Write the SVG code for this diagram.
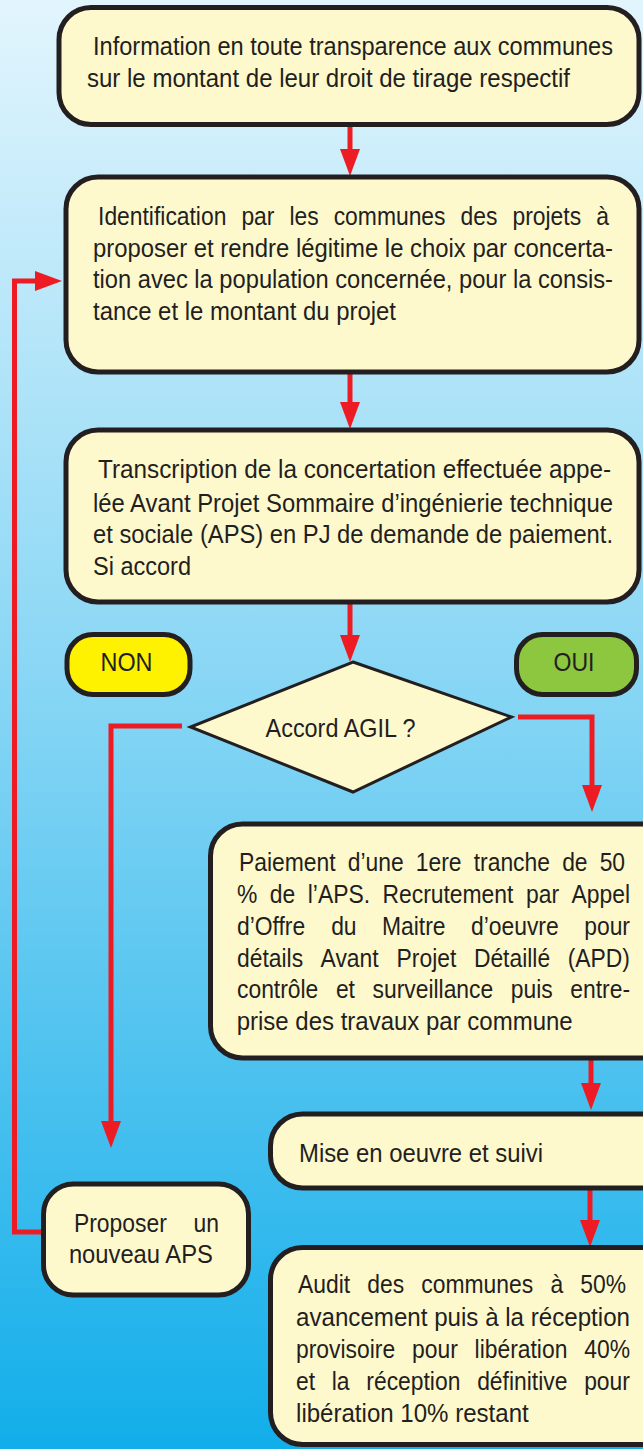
<svg xmlns="http://www.w3.org/2000/svg" width="643" height="1449" viewBox="0 0 643 1449">
<defs>
<linearGradient id="bg" x1="0" y1="0" x2="0" y2="1">
<stop offset="0" stop-color="#e2f5fd"/>
<stop offset="0.5" stop-color="#82d4f4"/>
<stop offset="1" stop-color="#12aeea"/>
</linearGradient>
<marker id="ah" viewBox="0 0 27 20" refX="0" refY="10" markerWidth="27" markerHeight="20" markerUnits="userSpaceOnUse" orient="auto">
<path d="M0,0 L27,10 L0,20 Z" fill="#ed1c24"/>
</marker>
<style>
.box{fill:#fef9cd;stroke:#231f20;stroke-width:5}
.t{font-family:"Liberation Sans",Arial,sans-serif;font-size:26px;fill:#231f20}
.c{fill:none;stroke:#ed1c24;stroke-width:5;stroke-linejoin:miter}
</style>
</defs>
<rect x="0" y="0" width="643" height="1449" fill="url(#bg)"/>

<g id="connectors">
<path class="c" d="M350,125 V149" marker-end="url(#ah)"/>
<path class="c" d="M350,373 V402" marker-end="url(#ah)"/>
<path class="c" d="M350,603 V635" marker-end="url(#ah)"/>
<path class="c" d="M518,717 H592 V785" marker-end="url(#ah)"/>
<path class="c" d="M182,726 H111 V1121" marker-end="url(#ah)"/>
<path class="c" d="M591,1060 V1083" marker-end="url(#ah)"/>
<path class="c" d="M590,1190 V1220" marker-end="url(#ah)"/>
<path class="c" d="M41,1232 H14.5 V281 H35" marker-end="url(#ah)"/>
</g>

<g id="n1">
<rect class="box" x="59" y="7.5" width="580" height="117" rx="32"/>
<text class="t" transform="scale(0.88 1)" x="105.7" y="55" textLength="590.9" lengthAdjust="spacingAndGlyphs">Information en toute transparence aux communes</text>
<text class="t" transform="scale(0.88 1)" x="98.9" y="87" textLength="548.9" lengthAdjust="spacingAndGlyphs">sur le montant de leur droit de tirage respectif</text>
</g>

<g id="n2">
<rect class="box" x="66" y="177" width="573" height="195" rx="32"/>
<text class="t" y="225" transform="scale(0.88 1)"><tspan x="111.4">Identification</tspan><tspan x="274.3">par</tspan><tspan x="329">les</tspan><tspan x="379.2">communes</tspan><tspan x="523.4">des</tspan><tspan x="582.4">projets</tspan><tspan x="677.5">à</tspan></text>
<text class="t" transform="scale(0.88 1)" x="105.7" y="256.7" textLength="590.9" lengthAdjust="spacingAndGlyphs">proposer et rendre légitime le choix par concerta-</text>
<text class="t" transform="scale(0.88 1)" x="105.7" y="288.3" textLength="590.9" lengthAdjust="spacingAndGlyphs">tion avec la population concernée, pour la consis-</text>
<text class="t" transform="scale(0.88 1)" x="105.7" y="320" textLength="344.3" lengthAdjust="spacingAndGlyphs">tance et le montant du projet</text>
</g>

<g id="n3">
<rect class="box" x="66" y="430" width="573" height="172" rx="32"/>
<text class="t" transform="scale(0.88 1)" x="111.4" y="478.3" textLength="583" lengthAdjust="spacingAndGlyphs">Transcription de la concertation effectuée appe-</text>
<text class="t" transform="scale(0.88 1)" x="105.7" y="511.7" textLength="590.9" lengthAdjust="spacingAndGlyphs">lée Avant Projet Sommaire d’ingénierie technique</text>
<text class="t" transform="scale(0.88 1)" x="105.7" y="543.3" textLength="590.9" lengthAdjust="spacingAndGlyphs">et sociale (APS) en PJ de demande de paiement.</text>
<text class="t" transform="scale(0.88 1)" x="105.7" y="575" textLength="111.4" lengthAdjust="spacingAndGlyphs">Si accord</text>
</g>

<g id="non">
<rect x="67" y="634.5" width="123" height="60" rx="26" fill="#fff200" stroke="#231f20" stroke-width="5"/>
<text class="t" transform="scale(0.88 1)" x="143.75" y="671" text-anchor="middle" textLength="59.1" lengthAdjust="spacingAndGlyphs">NON</text>
</g>

<g id="oui">
<rect x="516.5" y="634.5" width="120" height="60" rx="26" fill="#8dc63f" stroke="#231f20" stroke-width="5"/>
<text class="t" transform="scale(0.88 1)" x="652.3" y="671" text-anchor="middle" textLength="46.6" lengthAdjust="spacingAndGlyphs">OUI</text>
</g>

<g id="decision">
<polygon points="353,662 511.5,717 353,792 190.5,727" fill="#fef9cd" stroke="#231f20" stroke-width="3" stroke-linejoin="miter"/>
<text class="t" transform="scale(0.88 1)" x="301.8" y="737.3" textLength="170.5" lengthAdjust="spacingAndGlyphs">Accord AGIL ?</text>
</g>

<g id="n5">
<rect class="box" x="210.5" y="824" width="470" height="234" rx="32"/>
<text class="t" y="871" transform="scale(0.88 1)"><tspan x="271.6">Paiement</tspan><tspan x="395.1">d’une</tspan><tspan x="472.5">1ere</tspan><tspan x="538.3">tranche</tspan><tspan x="638.8">de</tspan><tspan x="681.4">50</tspan></text>
<text class="t" y="902.7" transform="scale(0.88 1)"><tspan x="269.3">%</tspan><tspan x="306.6">de</tspan><tspan x="349.7">l’APS.</tspan><tspan x="434.7">Recrutement</tspan><tspan x="597.7">par</tspan><tspan x="649.5">Appel</tspan></text>
<text class="t" y="935" transform="scale(0.88 1)"><tspan x="269.3">d’Offre</tspan><tspan x="376.3">du</tspan><tspan x="434.1">Maitre</tspan><tspan x="535.2">d’oeuvre</tspan><tspan x="663.9">pour</tspan></text>
<text class="t" y="966.7" transform="scale(0.88 1)"><tspan x="269.3">détails</tspan><tspan x="364.3">Avant</tspan><tspan x="450.7">Projet</tspan><tspan x="538.5">Détaillé</tspan><tspan x="645.1">(APD)</tspan></text>
<text class="t" y="998.3" transform="scale(0.88 1)"><tspan x="269.3">contrôle</tspan><tspan x="381.7">et</tspan><tspan x="423.3">surveillance</tspan><tspan x="580.5">puis</tspan><tspan x="648.1">entre-</tspan></text>
<text class="t" transform="scale(0.88 1)" x="269" y="1030" textLength="381.8" lengthAdjust="spacingAndGlyphs">prise des travaux par commune</text>
</g>

<g id="n6">
<rect class="box" x="270.5" y="1114" width="410" height="74" rx="32"/>
<text class="t" transform="scale(0.88 1)" x="339.8" y="1161.7" textLength="277.3" lengthAdjust="spacingAndGlyphs">Mise en oeuvre et suivi</text>
</g>

<g id="n8">
<rect class="box" x="43.5" y="1184" width="205" height="111" rx="30"/>
<text class="t" y="1231.7" transform="scale(0.88 1)"><tspan x="84.1">Proposer</tspan><tspan x="220">un</tspan></text>
<text class="t" transform="scale(0.88 1)" x="78.3" y="1262.7" textLength="163.6" lengthAdjust="spacingAndGlyphs">nouveau APS</text>
</g>

<g id="n7">
<rect class="box" x="270.5" y="1247.5" width="410" height="197" rx="32"/>
<text class="t" y="1293.3" transform="scale(0.88 1)"><tspan x="338.6">Audit</tspan><tspan x="417.3">des</tspan><tspan x="478.8">communes</tspan><tspan x="625.5">à</tspan><tspan x="659.4">50%</tspan></text>
<text class="t" transform="scale(0.88 1)" x="336.4" y="1326" textLength="379.5" lengthAdjust="spacingAndGlyphs">avancement puis à la réception</text>
<text class="t" y="1358.3" transform="scale(0.88 1)"><tspan x="336.4">provisoire</tspan><tspan x="468.2">pour</tspan><tspan x="539.3">libération</tspan><tspan x="663.9">40%</tspan></text>
<text class="t" y="1390" transform="scale(0.88 1)"><tspan x="336.4">et</tspan><tspan x="377">la</tspan><tspan x="416.3">réception</tspan><tspan x="542.2">définitive</tspan><tspan x="663.8">pour</tspan></text>
<text class="t" transform="scale(0.88 1)" x="336.4" y="1422.3" textLength="264.4" lengthAdjust="spacingAndGlyphs">libération 10% restant</text>
</g>
</svg>
